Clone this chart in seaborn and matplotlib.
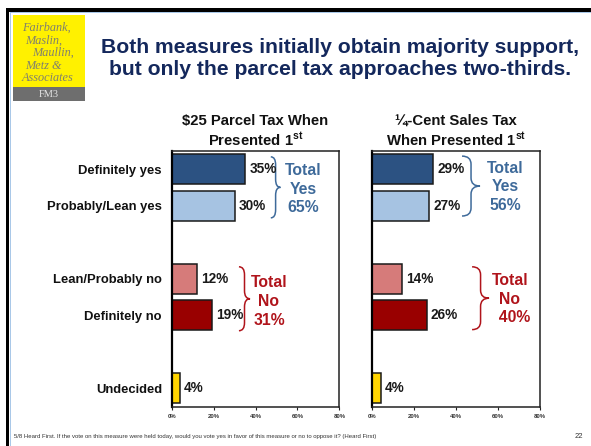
import matplotlib
matplotlib.use('Agg')
import matplotlib.pyplot as plt
import seaborn as sns
import pandas as pd
from matplotlib.path import Path
from matplotlib.patches import PathPatch, Rectangle

# Survey results (percent)
responses = ['Definitely yes', 'Probably/Lean yes', 'Lean/Probably no', 'Definitely no', 'Undecided']
parcel_tax = [35, 30, 12, 19, 4]
sales_tax = [29, 27, 14, 26, 4]
parcel_totals = {'yes': 65, 'no': 31}
sales_totals = {'yes': 56, 'no': 40}
row_slots = [0, 1, 3, 4, 6]
bar_colors = ['#2C5282', '#A6C3E2', '#D67B7A', '#990000', '#FFD400']
x_ticks = [0, 20, 40, 60, 80]

YES_BLUE = '#3E6A9A'
NO_RED = '#B0141B'
NAVY = '#14285C'

W, H = 591, 446

sns.set_theme(style='white')
plt.rcParams['font.family'] = ['Liberation Sans', 'DejaVu Sans']
plt.rcParams['mathtext.fontset'] = 'custom'
plt.rcParams['mathtext.bf'] = 'Liberation Sans:bold'
plt.rcParams['mathtext.rm'] = 'Liberation Sans'

fig = plt.figure(figsize=(W / 100, H / 100), dpi=100)
fig.patch.set_facecolor('white')


def fx(x):
    return x / W


def fy(y):
    return 1 - y / H


def brace(ax, x, y0, y1, w, color, r=0.22):
    # curly brace pointing right, y0 is the top (axis is inverted)
    ym = (y0 + y1) / 2
    xm = x + w / 2
    verts = [(x, y0), (xm, y0), (xm, y0 + r),
             (xm, ym - r), (xm, ym), (x + w, ym),
             (xm, ym), (xm, ym + r),
             (xm, y1 - r), (xm, y1), (x, y1)]
    codes = [Path.MOVETO, Path.CURVE3, Path.CURVE3,
             Path.LINETO, Path.CURVE3, Path.CURVE3,
             Path.CURVE3, Path.CURVE3,
             Path.LINETO, Path.CURVE3, Path.CURVE3]
    ax.add_patch(PathPatch(Path(verts, codes), fill=False, edgecolor=color,
                           linewidth=1.1, clip_on=False))


def draw_panel(ax, values, header, show_labels):
    df = pd.DataFrame({'response': responses, 'pct': values, 'slot': row_slots})
    sns.barplot(data=df, x='pct', y='slot', hue='response', orient='h',
                palette=dict(zip(responses, bar_colors)), native_scale=True,
                dodge=False, width=0.82, edgecolor='#1a1a1a', linewidth=1.1,
                saturation=1, legend=False, ax=ax)
    for cont in ax.containers:
        ax.bar_label(cont, fmt='%d%%', padding=3, fontsize=9.8,
                     fontweight='bold', color='#1a1a1a')
    ax.set_xlim(0, 80)
    ax.set_ylim(6.5, -0.5)
    ax.set_xticks(x_ticks)
    ax.set_xticklabels([f'{t}%' for t in x_ticks], fontsize=4.3,
                       fontweight='bold', color='#333333')
    ax.set_yticks(row_slots)
    if show_labels:
        ax.set_yticklabels(responses, fontsize=9.4, fontweight='bold', color='#111111')
    else:
        ax.set_yticklabels([])
    ax.set_xlabel('')
    ax.set_ylabel('')
    ax.tick_params(axis='x', direction='out', length=2.5, width=0.8, pad=3,
                   bottom=True, color='#222222')
    ax.tick_params(axis='y', length=0, pad=7)
    for side in ['top', 'right', 'bottom']:
        ax.spines[side].set_color('#222222')
        ax.spines[side].set_linewidth(1.1)
    ax.spines['left'].set_color('black')
    ax.spines['left'].set_linewidth(1.6)
    ax.set_title(header, fontsize=10.7, fontweight='bold', color='#111111',
                 pad=3.5, linespacing=1.18)


ax1 = fig.add_axes([fx(171.7), fy(406.7), (339.3 - 171.7) / W, (406.7 - 151) / H])
ax2 = fig.add_axes([fx(372.3), fy(406.7), (540 - 372.3) / W, (406.7 - 151) / H])

draw_panel(ax1, parcel_tax, '$25 Parcel Tax When\nPresented 1$^{\\mathbf{st}}$', True)
draw_panel(ax2, sales_tax, '\u00bc-Cent Sales Tax\nWhen Presented 1$^{\\mathbf{st}}$', False)

# brackets and totals
brace(ax1, 47.3, -0.34, 1.33, 4.6, YES_BLUE)
brace(ax1, 32.1, 2.67, 4.42, 5.3, NO_RED)
brace(ax2, 42.8, -0.36, 1.28, 8.6, YES_BLUE)
brace(ax2, 47.6, 2.67, 4.39, 8.1, NO_RED)

tot_kw = dict(ha='center', va='center', fontsize=11.3, fontweight='bold',
              linespacing=1.3, multialignment='center')
ax1.text(62.7, 0.55, f"Total\nYes\n{parcel_totals['yes']}%", color=YES_BLUE, **tot_kw)
ax1.text(46.4, 3.62, f"Total\nNo\n{parcel_totals['no']}%", color=NO_RED, **tot_kw)
ax2.text(63.3, 0.48, f"Total\nYes\n{sales_totals['yes']}%", color=YES_BLUE, **tot_kw)
ax2.text(65.6, 3.56, f"Total\nNo\n  {sales_totals['no']}%", color=NO_RED, **tot_kw)

# slide frame
fig.add_artist(Rectangle((fx(6), fy(11.7)), 1, 3.4 / H, transform=fig.transFigure,
                         facecolor='black', edgecolor='none'))
fig.add_artist(Rectangle((fx(10), fy(13.2)), 1, 1.3 / H, transform=fig.transFigure,
                         facecolor='#A9C8E8', edgecolor='none'))
fig.add_artist(Rectangle((fx(6), 0), 3.4 / W, fy(8.3), transform=fig.transFigure,
                         facecolor='black', edgecolor='none'))
fig.add_artist(Rectangle((fx(9.6), 0), 1.3 / W, fy(12), transform=fig.transFigure,
                         facecolor='#A9C8E8', edgecolor='none'))

# logo
fig.add_artist(Rectangle((fx(12.7), fy(87)), 72.3 / W, 72 / H, transform=fig.transFigure,
                         facecolor='#FFF100', edgecolor='none'))
fig.add_artist(Rectangle((fx(12.7), fy(100.7)), 72.3 / W, 13.7 / H, transform=fig.transFigure,
                         facecolor='#6E6E6E', edgecolor='none'))
logo_lines = [('Fairbank,', 21.7, 28), ('Maslin,', 25, 40.7), ('Maullin,', 31.7, 53),
              ('Metz &', 25, 65.7), ('Associates', 21.7, 78.3)]
for txt, lx, ly in logo_lines:
    fig.text(fx(lx), fy(ly), txt, fontsize=8.8, style='italic', color='#80806E',
             family='Liberation Serif', ha='left', va='center')
fig.text(fx(48.5), fy(94.3), 'FM3', fontsize=7.5, color='#E6E6E6',
         family='Liberation Serif', ha='center', va='center')

# title
fig.text(fx(340), fy(58.5), 'Both measures initially obtain majority support,\n'
         'but only the parcel tax approaches two-thirds.',
         fontsize=15.2, fontweight='bold', color=NAVY, ha='center', va='center',
         linespacing=1.2)

# footnote
fig.text(fx(14), fy(436.5), '5/8 Heard First. If the vote on this measure were held today, '
         'would you vote yes in favor of this measure or no to oppose it? (Heard First)',
         fontsize=4.3, color='#333333', ha='left', va='center')
fig.text(fx(583), fy(436.5), '22', fontsize=5.5, color='#333333', ha='right', va='center')

fig.savefig('out.png', dpi=100)
